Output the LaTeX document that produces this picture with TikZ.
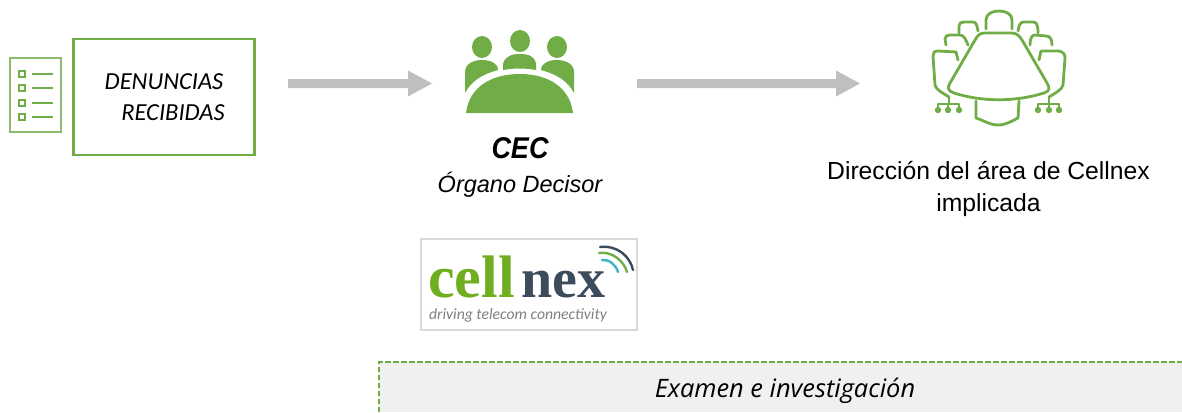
\documentclass[tikz,border=0pt]{standalone}
\usepackage{fontspec}
\setmainfont{Liberation Sans}
\newfontfamily\carl{Carlito}
\newfontfamily\opens{Open Sans}
\newfontfamily\lserif{Liberation Serif}
\definecolor{gr}{HTML}{70AD47}
\definecolor{ar}{HTML}{BFBFBF}
\definecolor{pn}{HTML}{F0F0F0}
\definecolor{cg}{HTML}{6FAE1F}
\definecolor{cd}{HTML}{3C4C5C}
\definecolor{ct}{HTML}{3FB3C4}
\tikzset{
  ico/.style={draw=gr,line width=1.9pt,line join=round,line cap=round},
  ico2/.style={draw=gr,line width=2.8pt,line join=round,line cap=round},
  lbl/.style={inner sep=0pt,align=center,text=black},
  flow/.style={fill=ar,draw=none},
  wave/.style={line width=2.4pt,line cap=round}
}
\begin{document}
\begin{tikzpicture}[x=1pt,y=-1pt]
\useasboundingbox (0,0) rectangle (1182,412);
% list icon
\draw[draw=gr!80,line width=1.6pt] (10,58) rectangle (61,132);
\foreach \y in {74,88,103,117}{
  \draw[draw=gr,line width=1.6pt] (19,\y-3) rectangle (25,\y+3);
  \draw[draw=gr,line width=1.6pt] (32,\y) -- (53,\y);
}
% box
\node[draw=gr,line width=2.6pt,minimum width=181pt,minimum height=116pt,inner sep=0pt] (den) at (164,97) {};
\node[lbl,font=\carl\itshape\fontsize{24.5}{28}\selectfont] (d1) at (164,82) {DENUNCIAS};
\node[lbl,font=\carl\itshape\fontsize{24.5}{28}\selectfont] (d2) at (173,113) {RECIBIDAS};
% arrows
\coordinate (a1s) at (288,83.5);
\coordinate (a1e) at (432,83.5);
\coordinate (a2s) at (637,83.5);
\coordinate (a2e) at (860,83.5);
\path[flow] (a1s) ++(0,-4.5) -- ++(120,0) -- ++(0,-8.5) -- (a1e) -- ++(-24,13) -- ++(0,-8.5) -- ++(-120,0) -- cycle;
\path[flow] (a2s) ++(0,-4.5) -- ++(199,0) -- ++(0,-8.5) -- (a2e) -- ++(-24,13) -- ++(0,-8.5) -- ++(-199,0) -- cycle;
% committee icon
\fill[gr] (482,47) ellipse (10 and 11);
\fill[gr] (520,41) ellipse (10 and 11);
\fill[gr] (557,47) ellipse (10 and 11);
\fill[gr] (465,93) -- (465,72) .. controls (465,63) and (475,60) .. (482,60) .. controls (490,60) and (498,63) .. (498,70) .. controls (480,75) and (471,82) .. (465,93) -- cycle;
\fill[gr] (503,70) -- (503,64) .. controls (505,56) and (512,54) .. (520,54) .. controls (528,54) and (535,56) .. (536,64) -- (536,70) .. controls (525,68) and (514,68) .. (503,70) -- cycle;
\fill[gr] (574,93) -- (574,72) .. controls (574,63) and (564,60) .. (557,60) .. controls (549,60) and (541,63) .. (541,70) .. controls (559,75) and (568,82) .. (574,93) -- cycle;
\fill[gr] (466,113) .. controls (469,88) and (490,74) .. (520,74) .. controls (549,74) and (570,88) .. (573,113) -- cycle;
% conference table icon
\draw[ico2] (986,29) -- (986,20) .. controls (986,14) and (992,11) .. (999,11) .. controls (1006,11) and (1012,14) .. (1012,20) -- (1012,29);
\draw[ico2] (959,33) -- (959,26) .. controls (959,23) and (961,22) .. (964,22) -- (973,22) .. controls (976,22) and (977,25) .. (978,31);
\draw[ico2] (946,45) -- (945,39) .. controls (945,36) and (947,35) .. (950,35) -- (960,35) .. controls (964,35) and (966,40) .. (968,45);
\draw[ico2] (958,60) -- (956,52) -- (938,51) .. controls (934,51) and (933,53) .. (933,56) -- (935,85) .. controls (936,90) and (943,93) .. (949,97);
\draw[ico2] (1018,31) .. controls (1019,25) and (1020,22) .. (1024,22) -- (1033,22) .. controls (1036,22) and (1038,24) .. (1038,33);
\draw[ico2] (1030,45) .. controls (1030,38) and (1032,35) .. (1035,35) -- (1046,36) .. controls (1050,36) and (1052,39) .. (1052,45);
\draw[ico2] (1039,60) -- (1041,51) -- (1059,51) .. controls (1063,52) and (1065,54) .. (1065,58) -- (1063,85) .. controls (1062,90) and (1055,93) .. (1049,97);
\draw[ico2] (985,33) -- (1011,33) .. controls (1016,33) and (1019,35) .. (1022,40) -- (1047,83) .. controls (1050,88) and (1050,91) .. (1044,93) .. controls (1015,102) and (982,102) .. (954,93) .. controls (948,91) and (947,88) .. (950,83) -- (975,40) .. controls (978,35) and (980,33) .. (985,33) -- cycle;
\draw[ico2] (976,101) -- (976,118) .. controls (985,121) and (990,125) .. (998,125) .. controls (1006,125) and (1012,121) .. (1018,118) -- (1019,101);
\draw[ico] (949,97) -- (949,103);
\draw[ico] (938,109) -- (938,104) -- (959,104) -- (959,109);
\draw[ico] (948,104) -- (948,109);
\draw[ico] (1049,97) -- (1049,103);
\draw[ico] (1038,109) -- (1038,104) -- (1059,104) -- (1059,109);
\draw[ico] (1049,104) -- (1049,109);
\foreach \x in {938,948,959,1038,1049,1059}{\fill[gr] (\x,110) circle (3.2);}
% texts
\node[lbl,font=\bfseries\itshape\fontsize{30}{32}\selectfont] (cec) at (520,148.5) {\scalebox{.9}[1]{CEC}};
\node[lbl,font=\itshape\fontsize{23.5}{28}\selectfont] (org) at (520,185) {Órgano Decisor};
\node[lbl,font=\fontsize{24.7}{32}\selectfont] (dir) at (988.5,189) {Dirección del área de Cellnex\\implicada};
% logo
\node[draw=black!15,line width=1.4pt,fill=white,minimum width=216pt,minimum height=91pt,inner sep=0pt] (logo) at (529,284.5) {};
\node[lbl,text=cg,font=\lserif\bfseries\fontsize{60}{60}\selectfont,anchor=base west] (lg1) at (428,297) {cell};
\node[lbl,text=cd,font=\lserif\bfseries\fontsize{56}{60}\selectfont,anchor=base west] (lg2) at (521,297) {nex};
\node[lbl,text=black!50,font=\carl\itshape\fontsize{15.7}{18}\selectfont] (lg3) at (518,315) {driving telecom connectivity};
\draw[wave,draw=cd] (600,247) .. controls (617,245) and (630,256) .. (633,270);
\draw[wave,draw=gr] (599,253) .. controls (612,251) and (624,261) .. (627,272);
\draw[wave,draw=ct] (602,260) .. controls (609,259) and (616,265) .. (618,272);
% panel
\path[fill=pn] (379,362) rectangle (1182,412);
\draw[draw=gr,line width=2pt,dash pattern=on 5.5pt off 2.5pt] (379,412) -- (379,362) -- (1182,362);
\node[lbl,font=\opens\itshape\fontsize{25.4}{30}\selectfont] (ex) at (785,391) {Examen e investigación};
\end{tikzpicture}
\end{document}
